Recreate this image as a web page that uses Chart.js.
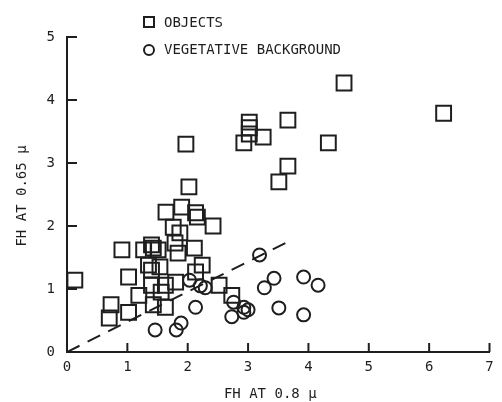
<!DOCTYPE html>
<html>
<head>
<meta charset="utf-8">
<script src="https://cdn.jsdelivr.net/npm/chart.js@4"></script>
<style>
  html, body { margin: 0; padding: 0; background: #fff; }
  canvas { display: block; }
</style>
</head>
<body>
<canvas id="scatterChart" width="502" height="402"></canvas>
<script>
// objects (squares)
const objectsX = [0.13, 0.70, 0.73, 0.91, 1.02, 1.02, 1.19, 1.27, 1.40, 1.51, 1.35, 1.54, 1.40, 1.56, 1.43,
  1.63, 1.63, 1.80, 1.43, 1.64, 1.90, 2.13, 2.16, 2.42, 1.76, 1.87, 1.79, 2.11, 1.84, 2.02, 1.97, 2.24,
  2.13, 2.52, 2.73, 2.93, 3.02, 3.02, 3.02, 3.25, 3.66, 4.33, 3.66, 3.51, 4.59, 6.24, 1.40];
const objectsY = [1.14, 0.54, 0.75, 1.62, 1.19, 0.63, 0.90, 1.62, 1.70, 1.62, 1.38, 1.35, 1.06, 0.95, 0.75,
  0.71, 1.06, 1.11, 1.65, 2.22, 2.30, 2.21, 2.14, 2.00, 1.98, 1.89, 1.73, 1.65, 1.57, 2.62, 3.30, 1.38,
  1.27, 1.06, 0.90, 3.32, 3.46, 3.56, 3.65, 3.41, 3.68, 3.32, 2.95, 2.70, 4.27, 3.79, 1.30];

// vegetative background (circles)
const vegX = [1.46, 1.81, 1.89, 2.03, 2.21, 2.29, 2.13, 2.76, 2.73, 2.93, 3.00, 2.93, 3.19, 3.43, 3.27,
  3.92, 4.16, 3.51, 3.92];
const vegY = [0.35, 0.35, 0.46, 1.14, 1.05, 1.02, 0.71, 0.79, 0.56, 0.71, 0.67, 0.63, 1.54, 1.17, 1.02,
  1.19, 1.06, 0.70, 0.59];

// dashed boundary line
const lineX = [0, 3.66];
const lineY = [0, 1.75];

const xTicks = [0, 1, 2, 3, 4, 5, 6, 7];
const yTicks = [0, 1, 2, 3, 4, 5];

const INK = '#1e1e1e';
const FONT = '"DejaVu Sans Mono", monospace';

const toPoints = (xs, ys) => xs.map((x, i) => ({ x: x, y: ys[i] }));

// inward ticks, legend and axis titles
const decorations = {
  id: 'decorations',
  afterDraw(chart) {
    const ctx = chart.ctx;
    const xs = chart.scales.x;
    const ys = chart.scales.y;
    const area = chart.chartArea;
    ctx.save();
    ctx.strokeStyle = INK;
    ctx.lineWidth = 2;
    xTicks.forEach(v => {
      if (v === 0) return;
      const px = xs.getPixelForValue(v);
      ctx.beginPath();
      ctx.moveTo(px, area.bottom);
      ctx.lineTo(px, area.bottom - 9);
      ctx.stroke();
    });
    yTicks.forEach(v => {
      if (v === 0) return;
      const py = ys.getPixelForValue(v);
      ctx.beginPath();
      ctx.moveTo(area.left, py);
      ctx.lineTo(area.left + 10, py);
      ctx.stroke();
    });

    // legend
    ctx.fillStyle = INK;
    ctx.font = '14px ' + FONT;
    ctx.textBaseline = 'middle';
    ctx.textAlign = 'left';
    ctx.strokeRect(144, 17, 10, 10);
    ctx.fillText('OBJECTS', 164, 23);
    ctx.beginPath();
    ctx.arc(149, 50, 5, 0, Math.PI * 2);
    ctx.stroke();
    ctx.fillText('VEGETATIVE BACKGROUND', 164, 50);

    // axis titles
    ctx.textAlign = 'center';
    ctx.fillText('FH AT 0.8 \u03bc', (xs.left + xs.right) / 2 - 8, 394);
    ctx.translate(22, 196);
    ctx.rotate(-Math.PI / 2);
    ctx.fillText('FH AT 0.65 \u03bc', 0, 0);
    ctx.restore();
  }
};

new Chart(document.getElementById('scatterChart'), {
  type: 'scatter',
  data: {
    datasets: [
      {
        label: 'OBJECTS',
        data: toPoints(objectsX, objectsY),
        pointStyle: 'rect',
        pointRadius: 10.5,
        borderColor: INK,
        borderWidth: 2,
        backgroundColor: 'rgba(0,0,0,0)'
      },
      {
        label: 'VEGETATIVE BACKGROUND',
        data: toPoints(vegX, vegY),
        pointStyle: 'circle',
        pointRadius: 6.5,
        borderColor: INK,
        borderWidth: 2,
        backgroundColor: 'rgba(0,0,0,0)'
      },
      {
        type: 'line',
        label: 'boundary',
        data: toPoints(lineX, lineY),
        borderColor: INK,
        borderWidth: 2,
        borderDash: [14, 9],
        pointRadius: 0,
        fill: false
      }
    ]
  },
  options: {
    responsive: false,
    animation: false,
    layout: { padding: { top: 37, right: 5, left: 0, bottom: 0 } },
    plugins: {
      legend: { display: false },
      tooltip: { enabled: false }
    },
    scales: {
      x: {
        type: 'linear',
        min: 0,
        max: 7,
        afterBuildTicks: scale => { scale.ticks = xTicks.map(v => ({ value: v })); },
        afterFit: scale => { scale.height = 50; },
        grid: { drawOnChartArea: false, drawTicks: false },
        border: { display: true, color: INK, width: 2 },
        ticks: { color: INK, font: { family: FONT, size: 14 }, padding: 7 }
      },
      y: {
        type: 'linear',
        min: 0,
        max: 5,
        afterBuildTicks: scale => { scale.ticks = yTicks.map(v => ({ value: v })); },
        afterFit: scale => { scale.width = 67; },
        grid: { drawOnChartArea: false, drawTicks: false },
        border: { display: true, color: INK, width: 2 },
        ticks: { color: INK, font: { family: FONT, size: 14 }, padding: 12 }
      }
    }
  },
  plugins: [decorations]
});
</script>
</body>
</html>
